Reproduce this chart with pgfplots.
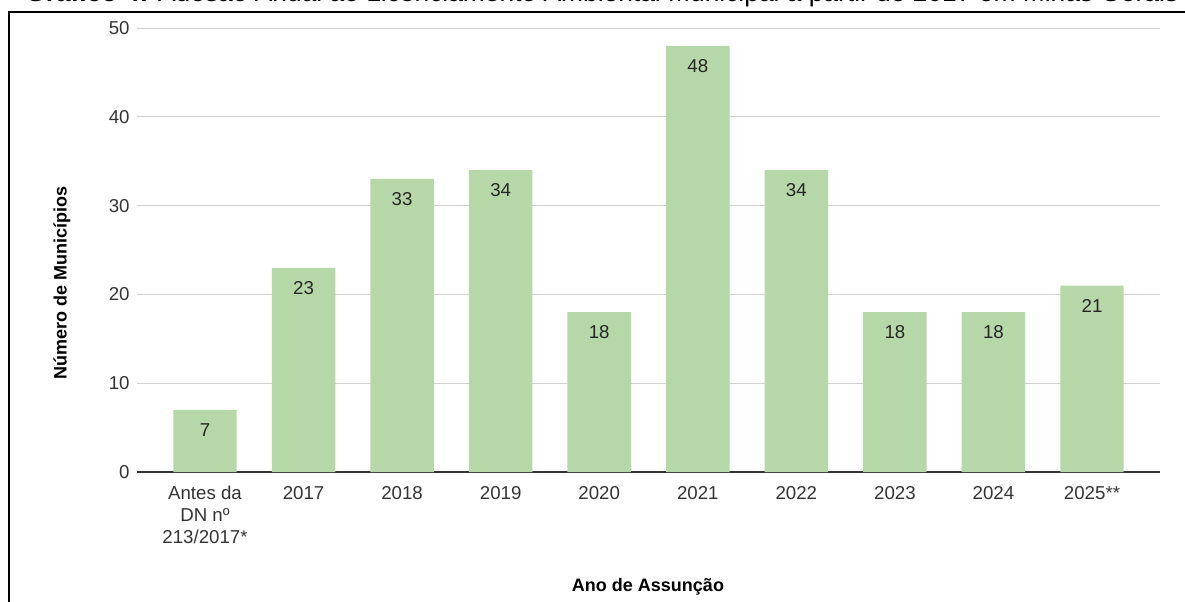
\documentclass[border=0pt]{standalone}
\usepackage{fontspec}
\setmainfont{Liberation Sans}
\usepackage{pgfplots}
\pgfplotsset{compat=1.18}
\usepackage{graphicx}
\definecolor{barg}{HTML}{B6D7A8}
\definecolor{txt}{HTML}{333333}
\definecolor{gridc}{HTML}{D0D0D0}
\begin{document}
\begin{tikzpicture}
\useasboundingbox (0,0) rectangle (888.75pt,450.75pt);
\clip (0,0) rectangle (888.75pt,450.75pt);
% title (clipped at top, as in the reference)
\node[anchor=base west, inner sep=0] at (18.75pt,449.25pt)
  {\resizebox{864.75pt}{!}{\fontsize{20}{24}\selectfont\textbf{Gráfico 4:} Adesão Anual ao Licenciamento Ambiental Municipal a partir de 2017 em Minas Gerais}};
% frame
\draw[line width=1.5pt] (6.4pt,-2pt) -- (6.4pt,441.75pt) -- (892pt,441.75pt);
\begin{axis}[
  at={(102.75pt,96.75pt)}, anchor=south west,
  scale only axis, width=767.25pt, height=333pt,
  xmin=-0.69, xmax=9.69, ymin=0, ymax=50,
  ybar, bar width=47.6pt,
  xtick=data,
  xticklabels={{Antes da\\DN nº\\213/2017*},2017,2018,2019,2020,2021,2022,2023,2024,2025**},
  ytick={0,10,20,30,40,50},
  extra y ticks={0}, extra y tick labels={},
  extra y tick style={grid style={draw=black!80, line width=1.1pt}},
  ymajorgrids, grid style={draw=gridc, line width=0.75pt},
  axis line style={draw=none},
  major tick length=0pt,
  /pgf/number format/assume math mode=true,
  ticklabel style={font=\fontsize{14}{16.5}\selectfont, text=txt},
  x tick label style={align=center, yshift=-7pt},
  y tick label style={xshift=-2pt},
  nodes near coords,
  every node near coord/.append style={anchor=center, yshift=-15pt, font=\fontsize{14}{16}\selectfont, text=black!85},
]
\addplot[fill=barg, draw=none] coordinates {(0,7) (1,23) (2,33) (3,34) (4,18) (5,48) (6,34) (7,18) (8,18) (9,21)};
\end{axis}
\node[rotate=90, font=\fontsize{13.5}{16}\selectfont\bfseries] at (46.5pt,238.5pt) {Número de Municípios};
\node[font=\fontsize{13.5}{16}\selectfont\bfseries] at (486pt,10.5pt) {Ano de Assunção};
\end{tikzpicture}
\end{document}
